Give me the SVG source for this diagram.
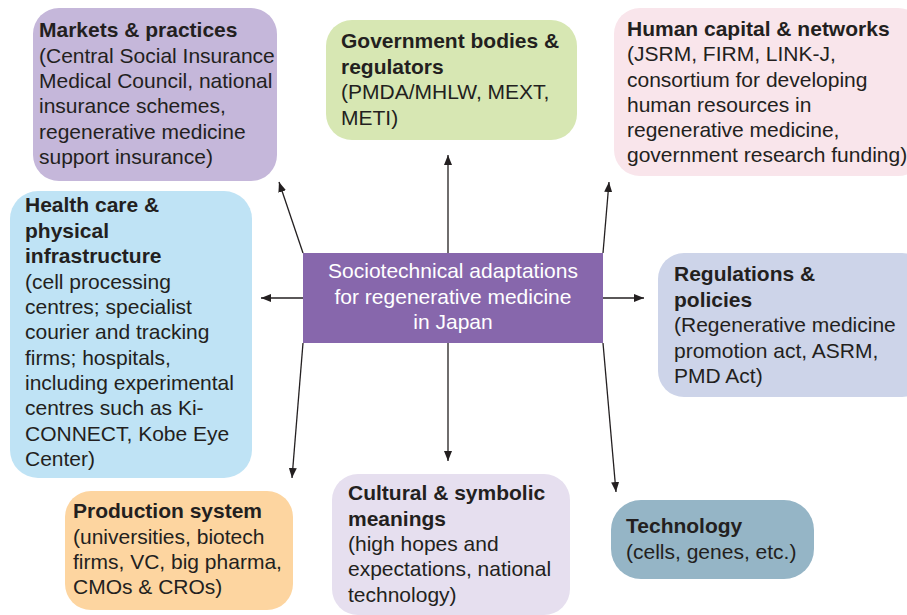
<svg xmlns="http://www.w3.org/2000/svg" width="907" height="615" viewBox="0 0 907 615">
<style>
text{font-family:"Liberation Sans",Arial,Helvetica,sans-serif;font-size:21px;fill:#231f20}
.b{font-weight:bold}
.c{fill:#ffffff;text-anchor:middle}
.ln{stroke:#231f20;stroke-width:1.3;fill:none;marker-end:url(#ah)}
</style>
<defs>
<marker id="ah" viewBox="0 0 10 8" refX="10" refY="4" markerWidth="10" markerHeight="8" markerUnits="userSpaceOnUse" orient="auto">
<path d="M0,0 L10,4 L0,8 z" fill="#231f20"/>
</marker>
</defs>
<g id="connectors">
<line class="ln" x1="448" y1="253" x2="448" y2="155"/>
<line class="ln" x1="448" y1="343" x2="448" y2="461"/>
<line class="ln" x1="303" y1="298" x2="261" y2="298"/>
<line class="ln" x1="603" y1="298" x2="644" y2="298"/>
<line class="ln" x1="303" y1="253" x2="279" y2="182"/>
<line class="ln" x1="603" y1="253" x2="609" y2="182"/>
<line class="ln" x1="303" y1="343" x2="292" y2="478"/>
<line class="ln" x1="603" y1="343" x2="616" y2="492"/>
</g>
<g id="markets">
<rect x="33" y="8" width="244" height="173" rx="26" fill="#c5b7da"/>
<text x="39" y="37"><tspan class="b">Markets &amp; practices</tspan><tspan x="39" y="62.5">(Central Social Insurance</tspan><tspan x="39" y="88">Medical Council, national</tspan><tspan x="39" y="113">insurance schemes,</tspan><tspan x="39" y="138.5">regenerative medicine</tspan><tspan x="39" y="164">support insurance)</tspan></text>
</g>
<g id="government">
<rect x="326" y="20" width="251" height="120" rx="26" fill="#d7e7b3"/>
<text x="341" y="48"><tspan class="b">Government bodies &amp;</tspan><tspan class="b" x="341" y="74">regulators</tspan><tspan x="341" y="99">(PMDA/MHLW, MEXT,</tspan><tspan x="341" y="124.5">METI)</tspan></text>
</g>
<g id="human">
<rect x="614" y="8" width="310" height="168" rx="26" fill="#f9e5eb"/>
<text x="627" y="36"><tspan class="b">Human capital &amp; networks</tspan><tspan x="627" y="61">(JSRM, FIRM, LINK-J,</tspan><tspan x="627" y="86.5">consortium for developing</tspan><tspan x="627" y="111.5">human resources in</tspan><tspan x="627" y="137">regenerative medicine,</tspan><tspan x="627" y="162">government research funding)</tspan></text>
</g>
<g id="health">
<rect x="10" y="191" width="242" height="287" rx="28" fill="#bfe3f5"/>
<text x="25" y="212"><tspan class="b">Health care &amp;</tspan><tspan class="b" x="25" y="238">physical</tspan><tspan class="b" x="25" y="263">infrastructure</tspan><tspan x="25" y="288.5">(cell processing</tspan><tspan x="25" y="314">centres; specialist</tspan><tspan x="25" y="339">courier and tracking</tspan><tspan x="25" y="364.5">firms; hospitals,</tspan><tspan x="25" y="390">including experimental</tspan><tspan x="25" y="415">centres such as Ki-</tspan><tspan x="25" y="440.5">CONNECT, Kobe Eye</tspan><tspan x="25" y="466">Center)</tspan></text>
</g>
<g id="center">
<rect x="303" y="253" width="300" height="90" fill="#8767ac"/>
<text class="c" x="453" y="278">Sociotechnical adaptations<tspan x="453" y="303.5">for regenerative medicine</tspan><tspan x="453" y="329">in Japan</tspan></text>
</g>
<g id="regulations">
<rect x="658" y="253" width="270" height="144" rx="26" fill="#cdd4e9"/>
<text x="674" y="281"><tspan class="b">Regulations &amp;</tspan><tspan class="b" x="674" y="307">policies</tspan><tspan x="674" y="332">(Regenerative medicine</tspan><tspan x="674" y="357.5">promotion act, ASRM,</tspan><tspan x="674" y="383">PMD Act)</tspan></text>
</g>
<g id="production">
<rect x="65" y="491" width="228" height="119" rx="26" fill="#fdd5a0"/>
<text x="73" y="518"><tspan class="b">Production system</tspan><tspan x="73" y="543.5">(universities, biotech</tspan><tspan x="73" y="569">firms, VC, big pharma,</tspan><tspan x="73" y="594">CMOs &amp; CROs)</tspan></text>
</g>
<g id="cultural">
<rect x="332" y="474" width="238" height="141" rx="26" fill="#e6dfef"/>
<text x="348" y="500"><tspan class="b">Cultural &amp; symbolic</tspan><tspan class="b" x="348" y="525.5">meanings</tspan><tspan x="348" y="551">(high hopes and</tspan><tspan x="348" y="576">expectations, national</tspan><tspan x="348" y="601.5">technology)</tspan></text>
</g>
<g id="technology">
<rect x="611" y="500" width="203" height="79" rx="30" fill="#95b5c6"/>
<text x="626" y="533"><tspan class="b">Technology</tspan><tspan x="626" y="559">(cells, genes, etc.)</tspan></text>
</g>
</svg>
